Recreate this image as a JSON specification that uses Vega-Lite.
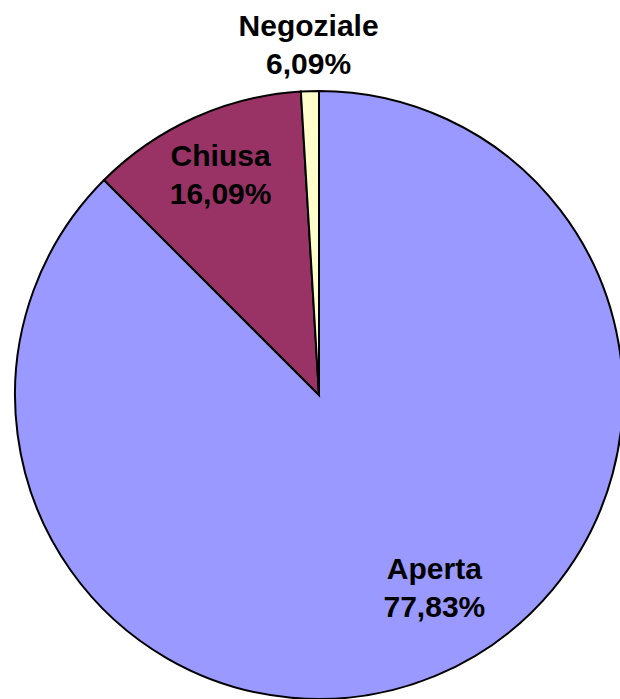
{
  "$schema": "https://vega.github.io/schema/vega-lite/v6.json",
  "width": 602,
  "height": 608,
  "autosize": "none",
  "padding": {"left": 18, "top": 91, "right": 0, "bottom": 0},
  "background": "white",
  "view": {"stroke": null},
  "data": {
    "values": [
      {"category": "Aperta", "share": 87.5, "label": "Aperta\n77,83%", "order": 1},
      {"category": "Chiusa", "share": 11.55, "label": "Chiusa\n16,09%", "order": 2},
      {"category": "Negoziale", "share": 0.95, "label": "Negoziale\n6,09%", "order": 3}
    ]
  },
  "encoding": {
    "theta": {"field": "share", "type": "quantitative", "stack": true},
    "order": {"field": "order", "type": "quantitative"}
  },
  "layer": [
    {
      "mark": {"type": "arc", "radius": 304, "stroke": "black", "strokeWidth": 2},
      "encoding": {
        "color": {
          "field": "category",
          "type": "nominal",
          "scale": {"domain": ["Aperta", "Chiusa", "Negoziale"], "range": ["#9999FF", "#993366", "#FFFFCC"]},
          "legend": null
        }
      }
    },
    {
      "mark": {
        "type": "text",
        "font": "Liberation Sans",
        "fontSize": 30,
        "fontWeight": "bold",
        "lineBreak": "\n",
        "lineHeight": 38,
        "align": "center",
        "baseline": "middle",
        "color": "black",
        "dy": -19,
        "radius": {"expr": "datum.category == 'Aperta' ? 210 : datum.category == 'Chiusa' ? 240 : 349"},
        "dx": {"expr": "datum.category == 'Aperta' ? 35 : 0"}
      },
      "encoding": {
        "text": {"field": "label", "type": "nominal"}
      }
    }
  ]
}
